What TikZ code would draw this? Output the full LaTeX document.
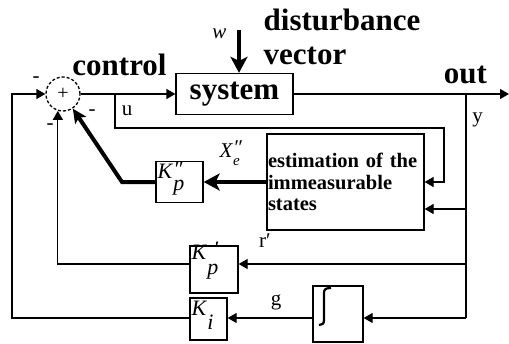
\documentclass[tikz,border=0pt]{standalone}
\usepackage{fontspec}
\setmainfont{Liberation Serif}
\usetikzlibrary{arrows.meta}
\newcommand{\gainlbl}[3]{\textit{K}\rlap{\textit{#1}}\raisebox{-#3}{\textit{#2}}}
\begin{document}
\begin{tikzpicture}[x=1pt,y=-1pt,
  line width=1.3pt,
  box/.style={draw, line width=1.3pt, inner sep=0pt},
  tip/.style={-{Triangle[length=9pt,width=10pt]}},
  bigtip/.style={-{Stealth[length=16pt,width=17pt,inset=4pt]}},
  midtip/.style={-{Stealth[length=14pt,width=13pt,inset=3pt]}},
  thickline/.style={line width=4pt},
  lbl/.style={font=\fontsize{21}{21}\selectfont, inner sep=0pt},
  blbl/.style={font=\fontsize{31}{34}\selectfont\bfseries, inner sep=0pt},
  klbl/.style={font=\fontsize{22}{22}\selectfont, inner sep=0pt, anchor=base west},
]
\useasboundingbox (0,0) rectangle (509,343);

% blocks
\node[circle, draw, dash pattern=on 3pt off 2pt, minimum size=34pt, inner sep=0pt,
      font=\fontsize{20}{20}\selectfont] (sum) at (63,94) {+};
\node[box, blbl, minimum width=117pt, minimum height=41pt] (sys) at (234.5,94) {system};
\node[box, minimum width=157pt, minimum height=96pt, text width=155pt, inner xsep=1pt,
      align=left, font=\fontsize{20.5}{21.5}\selectfont\bfseries] (est) at (345.5,182)
      {\mbox{estimation of the}\\immeasurable\\states};
\node[box, minimum width=47pt, minimum height=41pt] (kpp) at (179.5,182) {};
\node[box, minimum width=48pt, minimum height=47pt] (kp) at (214,269.5) {};
\node[box, minimum width=37pt, minimum height=42pt] (ki) at (208.5,319) {};
\node[box, minimum width=50pt, minimum height=56pt] (integ) at (338,314) {};

% integral sign
\draw[line width=2.2pt] (331,288) .. controls (326,288) and (324,289) .. (324,293)
  -- (324,320) .. controls (324,324) and (322,325) .. (319,325);

% gain labels
\node[klbl] (kpplbl) at (157,178) {\gainlbl{\raisebox{2pt}{″}}{p}{12pt}};
\node[klbl] (kplbl) at (191,259) {\gainlbl{\hspace{6pt}\raisebox{3pt}{′}}{p}{15pt}};
\node[klbl] (kilbl) at (191,315) {\gainlbl{}{i}{14pt}};

% coordinates
\coordinate (ubr) at (115,94);
\coordinate (u1) at (115,128);
\coordinate (u2) at (444,128);
\coordinate (u3) at (444,182);
\coordinate (outend) at (509,94);
\coordinate (ybr) at (466,94);
\coordinate (ye) at (466,209);
\coordinate (yk) at (466,264);
\coordinate (yb) at (466,318);
\coordinate (lc) at (12,318);
\coordinate (kb) at (122,182);
\coordinate (wtop) at (239,30);

% forward path
\draw[tip] (sum.east) -- (sys.west);
\draw[tip] (sys.east) -- (outend);
\draw[thickline, bigtip] (wtop) -- (wtop |- sys.north);

% u to estimator
\draw[tip] (ubr) -- (u1) -- (u2) -- (u3) -- (u3 -| est.east);

% y feedbacks
\draw (ybr) -- (yb);
\draw[tip] (ye) -- (ye -| est.east);
\draw[tip] (yk) -- (yk -| kp.east);
\draw[tip] (yb) -- (yb -| integ.east);
\draw[tip] (yb -| integ.west) -- (yb -| ki.east);

% to summing junction
\draw[tip] (yb -| ki.west) -- (lc) |- (sum.west);
\draw[tip] (yk -| kp.west) -- (sum.-107 |- yk) -- (sum.-107);
\draw[thickline, bigtip] (est.west) -- (kpp.east);
\draw[thickline, midtip] (kpp.west) -- (kb) -- (sum);

% labels
\node[blbl, anchor=base] (lcontrol) at (119.5,75) {control};
\node[blbl, anchor=north west, align=left] (ldist) at (263,8) {disturbance\\vector};
\node[blbl, anchor=base] (lout) at (465.5,83) {out};
\node[lbl, anchor=base] (lw) at (219.5,38) {\textit{w}};
\node[lbl, anchor=base] (lu) at (127,115) {u};
\node[lbl, anchor=base] (ly) at (477.5,122) {y};
\node[lbl, anchor=base] (lg) at (276,305) {g};
\node[lbl, anchor=base] (lr) at (265,247) {r′};
\node[lbl, anchor=base west] (lx) at (219,157)
  {\textit{X}\rlap{\raisebox{3pt}{\textit{″}}}\raisebox{-8pt}{\fontsize{15}{15}\selectfont\textit{e}}};
\node[lbl] (m1) at (36,80) {-};
\node[lbl] (m2) at (50,127) {-};
\node[lbl] (m3) at (92,113) {-};
\end{tikzpicture}
\end{document}
